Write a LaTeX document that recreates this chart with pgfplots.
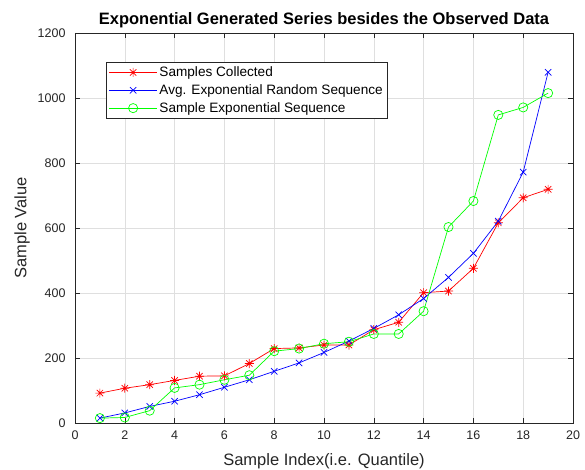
\documentclass[border=0pt]{standalone}
\usepackage{fontspec}
\setmainfont{Liberation Sans}
\usepackage{pgfplots}
\pgfplotsset{compat=1.18}
\definecolor{axgray}{RGB}{38,38,38}
\definecolor{gridgray}{RGB}{223,223,223}
\pgfdeclareplotmark{mstar}{%
  \pgfpathmoveto{\pgfqpoint{0pt}{\pgfplotmarksize}}\pgfpathlineto{\pgfqpoint{0pt}{-\pgfplotmarksize}}%
  \pgfpathmoveto{\pgfqpoint{\pgfplotmarksize}{0pt}}\pgfpathlineto{\pgfqpoint{-\pgfplotmarksize}{0pt}}%
  \pgfpathmoveto{\pgfqpoint{0.707\pgfplotmarksize}{0.707\pgfplotmarksize}}\pgfpathlineto{\pgfqpoint{-0.707\pgfplotmarksize}{-0.707\pgfplotmarksize}}%
  \pgfpathmoveto{\pgfqpoint{0.707\pgfplotmarksize}{-0.707\pgfplotmarksize}}\pgfpathlineto{\pgfqpoint{-0.707\pgfplotmarksize}{0.707\pgfplotmarksize}}%
  \pgfusepathqstroke}
\begin{document}
\begin{tikzpicture}
\useasboundingbox (-75bp,-47bp) rectangle (510bp,423bp);
\begin{axis}[
  at={(0,0)}, anchor=south west,
  scale only axis, width=498bp, height=390bp,
  xmin=0, xmax=20, ymin=0, ymax=1200,
  xtick={0,2,...,20}, ytick={0,200,...,1200},
  grid=major,
  major grid style={draw=gridgray, line width=0.5bp},
  axis line style={draw=axgray, line width=0.6bp},
  tick style={draw=axgray, line width=0.5bp},
  tick align=inside, tickpos=both, major tick length=5bp,
  ticklabel style={font=\fontsize{12.5bp}{14bp}\selectfont, text=axgray},
  /pgf/number format/assume math mode=true,
  /pgf/number format/1000 sep={},
  xticklabel style={yshift=-4bp},
  yticklabel style={xshift=-6bp},
  xlabel={Sample Index(i.e. Quantile)},
  ylabel={Sample Value},
  label style={font=\fontsize{16.5bp}{19bp}\selectfont, text=axgray},
  xlabel style={at={(axis description cs:0.5,-0.0974)}, anchor=center},
  ylabel style={at={(axis description cs:-0.1064,0.5)}, anchor=center, rotate=0},
  title={Exponential Generated Series besides the Observed Data},
  title style={font=\bfseries\fontsize{16.5bp}{19bp}\selectfont, at={(axis description cs:0.5,1.018)}, anchor=center},
  legend style={at={(0.0622,0.9256)}, anchor=north west, draw=axgray, line width=0.6bp,
    font=\fontsize{13.6bp}{16bp}\selectfont, inner sep=2.5bp, row sep=2.5bp, fill=white,
    cells={anchor=west}},
  legend cell align=left,
  legend image code/.code={%
    \draw[mark repeat=2,mark phase=2] plot coordinates {(0bp,0bp) (24bp,0bp) (48bp,0bp)};},
  every axis plot/.append style={line width=0.7bp},
]
\addplot[color=red, mark=mstar, mark size=4.5bp, mark options={solid, line width=0.7bp}] coordinates {
(1,92) (2,107) (3,118) (4,131) (5,144) (6,145) (7,183) (8,229) (9,231) (10,240)
(11,240) (12,287) (13,310) (14,401) (15,406) (16,476) (17,616) (18,693) (19,719)};
\addlegendentry{Samples Collected}
\addplot[color=blue, mark=x, mark size=4.5bp, mark options={solid, line width=0.7bp}] coordinates {
(1,15) (2,31) (3,51) (4,67) (5,87) (6,110) (7,133) (8,159) (9,185) (10,217)
(11,252) (12,291) (13,333) (14,383) (15,448) (16,522) (17,621) (18,772) (19,1079)};
\addlegendentry{Avg. Exponential Random Sequence}
\addplot[color=green, mark=o, mark size=4.6bp, mark options={solid, line width=0.7bp}] coordinates {
(1,15) (2,17) (3,38) (4,108) (5,118) (6,133) (7,147) (8,221) (9,229) (10,244)
(11,250) (12,274) (13,274) (14,344) (15,603) (16,683) (17,948) (18,971) (19,1015)};
\addlegendentry{Sample Exponential Sequence}
\end{axis}
\end{tikzpicture}
\end{document}
